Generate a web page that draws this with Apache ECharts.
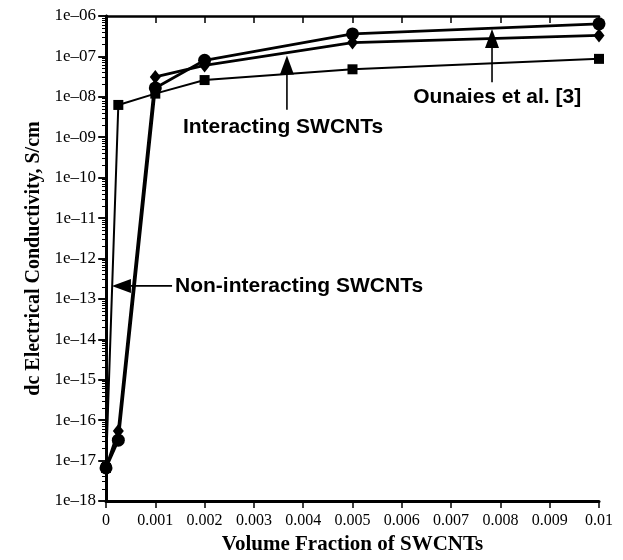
<!DOCTYPE html>
<html>
<head>
<meta charset="utf-8">
<script src="https://cdn.jsdelivr.net/npm/echarts@6/dist/echarts.min.js"></script>
<style>
  html, body { margin: 0; padding: 0; background: #fff; }
  #chart { width: 623px; height: 560px; }
</style>
</head>
<body>
<div id="chart"></div>
<script>
// volume fraction of SWCNTs
var xVals = [0, 0.00025, 0.001, 0.002, 0.005, 0.01];
// conductivity, S/cm
var squareVals = [6.6e-18, 6.3e-9, 1.2e-8, 2.6e-8, 4.8e-8, 8.7e-8];
var diamondVals = [6.6e-18, 5.4e-17, 3.1e-8, 6.0e-8, 2.2e-7, 3.3e-7];
var circleVals = [6.6e-18, 3.2e-17, 1.66e-8, 8.0e-8, 3.6e-7, 6.4e-7];

// annotation arrows, in data coordinates
var notes = [
  { text: "Non-interacting SWCNTs", tip: [0.00012, 2.1e-13], tail: [0.00134, 2.1e-13], at: [0.0014, 2.1e-13] },
  { text: "Interacting SWCNTs", tip: [0.00367, 1.05e-7], tail: [0.00367, 4.8e-9], at: [0.00156, 1.75e-9] },
  { text: "Ounaies et al. [3]", tip: [0.00783, 4.8e-7], tail: [0.00783, 2.3e-8], at: [0.00623, 1.0e-8] }
];

function pairs(ys) {
  return xVals.map(function (x, i) { return [x, ys[i]]; });
}

function expLabel(v) {
  var e = Math.round(Math.log10(v));
  var n = Math.abs(e);
  return "1e" + (e < 0 ? "\u2013" : "+") + (n < 10 ? "0" + n : "" + n);
}

var serif = "Liberation Serif";
var sans = "Liberation Sans";

var myChart = echarts.init(document.getElementById("chart"));

var lineStyle = { color: "#000", width: 2.8 };

var option = {
  animation: false,
  grid: { left: 106, right: 24, top: 16, bottom: 53 },
  xAxis: [
    {
      type: "value",
      min: 0,
      max: 0.01,
      interval: 0.001,
      name: "Volume Fraction of SWCNTs",
      nameLocation: "middle",
      nameGap: 33,
      nameTextStyle: { fontFamily: serif, fontWeight: "bold", fontSize: 21, color: "#000" },
      axisLine: { lineStyle: { color: "#000", width: 3 } },
      axisTick: { inside: false, length: 7, lineStyle: { color: "#000", width: 1.5 } },
      axisLabel: {
        fontFamily: serif, fontSize: 16, color: "#000", margin: 12,
        formatter: function (v) { return String(parseFloat(v.toFixed(4))); }
      },
      splitLine: { show: false }
    },
    {
      type: "value",
      position: "top",
      min: 0,
      max: 0.01,
      interval: 0.001,
      axisLine: { lineStyle: { color: "#000", width: 2.5 } },
      axisTick: { inside: true, length: 7, lineStyle: { color: "#000", width: 1.5 } },
      axisLabel: { show: false },
      splitLine: { show: false }
    }
  ],
  yAxis: [
    {
      type: "log",
      logBase: 10,
      min: 1e-18,
      max: 1e-6,
      interval: 1,
      name: "dc Electrical Conductivity, S/cm",
      nameLocation: "middle",
      nameGap: 60,
      nameTextStyle: { fontFamily: serif, fontWeight: "bold", fontSize: 20, color: "#000" },
      axisLine: { lineStyle: { color: "#000", width: 3 } },
      axisTick: { inside: false, length: 8, lineStyle: { color: "#000", width: 1.5 } },
      minorTick: { show: true, splitNumber: 9, length: 4, lineStyle: { color: "#000", width: 1 } },
      axisLabel: { fontFamily: serif, fontSize: 17, color: "#000", margin: 10, formatter: expLabel },
      splitLine: { show: false }
    },
    {
      type: "log",
      logBase: 10,
      position: "right",
      min: 1e-18,
      max: 1e-6,
      interval: 1,
      axisLine: { lineStyle: { color: "#000", width: 2.5 } },
      axisTick: { inside: true, length: 7, lineStyle: { color: "#000", width: 1.5 } },
      minorTick: { show: true, splitNumber: 9, length: 4, lineStyle: { color: "#000", width: 1 } },
      axisLabel: { show: false },
      splitLine: { show: false }
    }
  ],
  series: [
    {
      name: "squares",
      type: "line",
      data: pairs(squareVals),
      symbol: "rect",
      symbolSize: 10,
      itemStyle: { color: "#000" },
      lineStyle: { color: "#000", width: 2 }
    },
    {
      name: "diamonds",
      type: "line",
      data: pairs(diamondVals),
      symbol: "diamond",
      symbolSize: [11, 14],
      itemStyle: { color: "#000" },
      lineStyle: lineStyle
    },
    {
      name: "circles",
      type: "line",
      data: pairs(circleVals),
      symbol: "circle",
      symbolSize: 13,
      itemStyle: { color: "#000" },
      lineStyle: lineStyle
    }
  ]
};

myChart.setOption(option);

// arrows and labels placed through the axes
var graphics = [];
notes.forEach(function (n) {
  var tip = myChart.convertToPixel({ xAxisIndex: 0, yAxisIndex: 0 }, n.tip);
  var tail = myChart.convertToPixel({ xAxisIndex: 0, yAxisIndex: 0 }, n.tail);
  var at = myChart.convertToPixel({ xAxisIndex: 0, yAxisIndex: 0 }, n.at);
  var dx = tail[0] - tip[0], dy = tail[1] - tip[1];
  var len = Math.sqrt(dx * dx + dy * dy);
  var ux = dx / len, uy = dy / len;
  var hl = 19, hw = 7;
  var bx = tip[0] + ux * hl, by = tip[1] + uy * hl;
  graphics.push({
    type: "line",
    shape: { x1: bx, y1: by, x2: tail[0], y2: tail[1] },
    style: { stroke: "#000", lineWidth: 1.6 },
    z: 50
  });
  graphics.push({
    type: "polygon",
    shape: { points: [tip, [bx - uy * hw, by + ux * hw], [bx + uy * hw, by - ux * hw]] },
    style: { fill: "#000" },
    z: 50
  });
  graphics.push({
    type: "text",
    x: at[0],
    y: at[1],
    style: {
      text: n.text, fill: "#000", fontFamily: sans, fontWeight: "bold", fontSize: 21,
      align: "left", verticalAlign: "middle"
    },
    z: 50
  });
});
myChart.setOption({ graphic: graphics });
</script>
</body>
</html>
